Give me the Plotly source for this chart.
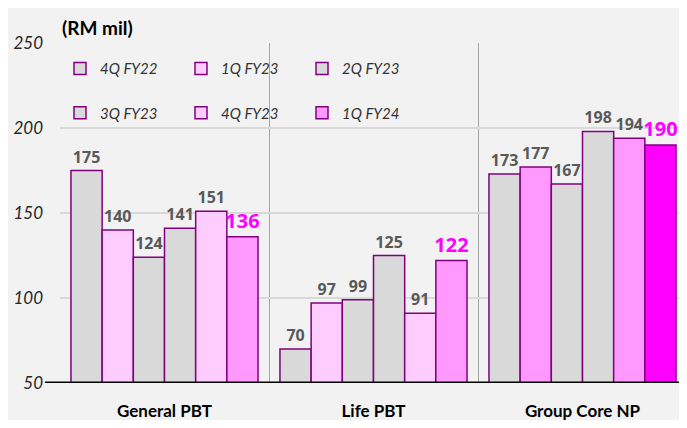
import plotly.graph_objects as go

# ---------------------------------------------------------------------
# Data
# ---------------------------------------------------------------------
categories = ["General PBT", "Life PBT", "Group Core NP"]
quarters = ["4Q FY22", "1Q FY23", "2Q FY23", "3Q FY23", "4Q FY23", "1Q FY24"]

q4_fy22 = [175, 70, 173]
q1_fy23 = [140, 97, 177]
q2_fy23 = [124, 99, 167]
q3_fy23 = [141, 125, 198]
q4_fy23 = [151, 91, 194]
q1_fy24 = [136, 122, 190]

y_ticks = [50, 100, 150, 200, 250]

# ---------------------------------------------------------------------
# Styles
# ---------------------------------------------------------------------
GREY = "#d9d9d9"
LIGHT_PINK = "#ffccff"
PINK = "#ff99ff"
MAGENTA = "#ff00ff"
OUTLINE = "#800080"
LABEL = "#595959"
BG = "#f2f2f2"

series = [
    (quarters[0], q4_fy22, [GREY, GREY, GREY]),
    (quarters[1], q1_fy23, [LIGHT_PINK, LIGHT_PINK, PINK]),
    (quarters[2], q2_fy23, [GREY, GREY, GREY]),
    (quarters[3], q3_fy23, [GREY, GREY, GREY]),
    (quarters[4], q4_fy23, [LIGHT_PINK, LIGHT_PINK, PINK]),
    (quarters[5], q1_fy24, [PINK, PINK, MAGENTA]),
]

fig = go.Figure()
for i, (name, values, colors) in enumerate(series):
    latest = name == "1Q FY24"
    fig.add_trace(go.Bar(
        name=name,
        x=categories,
        y=values,
        marker=dict(color=colors, line=dict(color=OUTLINE, width=1.5)),
        text=values,
        textposition="outside",
        constraintext="none",
        cliponaxis=False,
        textfont=dict(
            family="Open Sans",
            size=20 if latest else 16,
            color=MAGENTA if latest else LABEL,
            weight="bold",
        ),
        legend="legend" if i < 3 else "legend2",
    ))

# two rows of three legend entries
legend_style = dict(
    orientation="h",
    x=0.0,
    xanchor="left",
    yanchor="middle",
    bgcolor="rgba(0,0,0,0)",
    entrywidth=76,
    entrywidthmode="pixels",
    font=dict(family="Lato", size=15, color="#333333", style="italic"),
    itemclick=False,
)

fig.update_layout(
    width=679,
    height=412,
    margin=dict(l=52, r=0, t=35, b=37),
    paper_bgcolor=BG,
    plot_bgcolor=BG,
    barmode="group",
    bargap=0.105,
    bargroupgap=0,
    legend=dict(legend_style, y=0.924),
    legend2=dict(legend_style, y=0.794),
    shapes=[
        # black base line
        dict(type="line", xref="paper", yref="y",
             x0=-0.024, x1=1.0, y0=50, y1=50,
             line=dict(color="black", width=3)),
    ],
    annotations=[
        dict(text="<b>(RM mil)</b>", xref="paper", yref="paper",
             x=0.0, y=1.047, xanchor="left", yanchor="middle", showarrow=False,
             font=dict(family="Lato", size=19, color="black")),
    ],
)

fig.update_xaxes(
    type="category",
    tickson="boundaries",
    showgrid=True,
    gridcolor="#a6a6a6",
    gridwidth=1,
    ticks="",
    ticklabelstandoff=16,
    tickfont=dict(family="Lato", size=17, color="black", weight="bold"),
    range=[-0.5, 2.5],
    zeroline=False,
    automargin=False,
)

fig.update_yaxes(
    range=[50, 250],
    tickvals=y_ticks,
    showgrid=True,
    gridcolor=GREY,
    gridwidth=2,
    zeroline=False,
    ticklabelstandoff=16,
    tickfont=dict(family="Lato", size=17, color="#262626", style="italic"),
)

fig.write_html("out.html")
